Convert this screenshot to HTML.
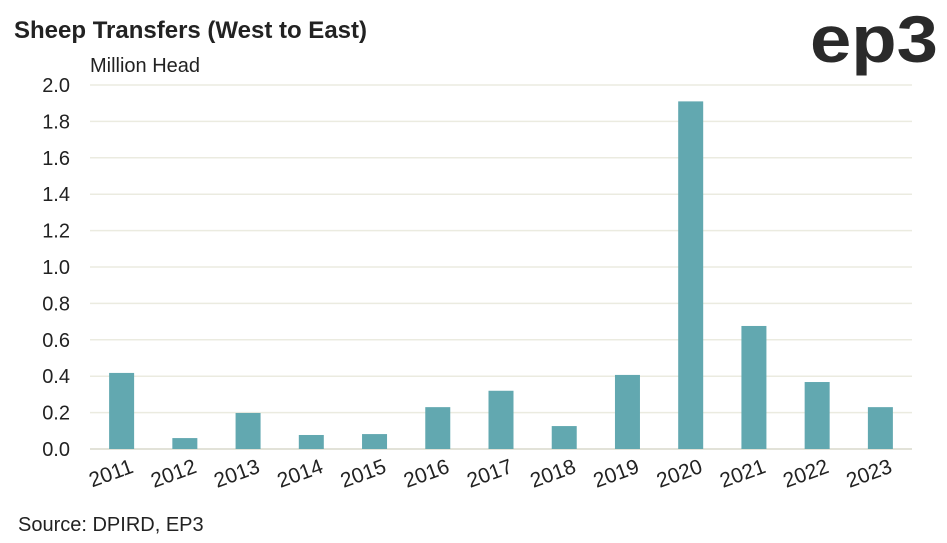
<!DOCTYPE html>
<html><head><meta charset="utf-8"><style>
body{margin:0;width:947px;height:543px;background:#fff;overflow:hidden;font-family:"Liberation Sans",sans-serif;}
svg{display:block}
</style></head><body>
<svg id="chart" width="947" height="543">
<text x="14" y="38" font-size="24" font-weight="bold" fill="#222">Sheep Transfers (West to East)</text>
<text x="810" y="62" font-size="66" font-weight="bold" fill="#2a2a2a" textLength="128" lengthAdjust="spacingAndGlyphs">ep3</text>
<text x="90" y="72" font-size="20" fill="#222">Million Head</text>
<text x="18" y="531" font-size="20" fill="#222">Source: DPIRD, EP3</text>
<g id="grid"></g><g id="bars"></g><g id="xl"></g>
</svg>
<script>
const categories=["2011","2012","2013","2014","2015","2016","2017","2018","2019","2020","2021","2022","2023"];
const values=[0.418,0.06,0.198,0.077,0.082,0.23,0.32,0.126,0.407,1.91,0.676,0.368,0.23];
const yTicks=["0.0","0.2","0.4","0.6","0.8","1.0","1.2","1.4","1.6","1.8","2.0"];
const NS="http://www.w3.org/2000/svg";
const x0=90,x1=912,y0=449,yTop=85,ymax=2.0;
const y=v=>y0-(v/ymax)*(y0-yTop);
const step=(x1-x0)/categories.length;
const xc=i=>x0+step*(i+0.5);
function mk(t,a,p){const e=document.createElementNS(NS,t);for(const k in a)e.setAttribute(k,a[k]);p.appendChild(e);return e;}
const g=document.getElementById('grid'),b=document.getElementById('bars'),xl=document.getElementById('xl');
yTicks.forEach(t=>{const v=parseFloat(t);
const l=mk('line',{x1:x0,x2:x1,y1:y(v),y2:y(v),stroke:v===0?'#d8d8cc':'#ebebe0','stroke-width':1.5},g);


const tx=mk('text',{x:70,y:y(v)+7,'font-size':20,fill:'#222','text-anchor':'end'},g);tx.textContent=t;

});
categories.forEach((c,i)=>{
const r=mk('rect',{x:xc(i)-12.5,y:y(values[i]),width:25,height:y0-y(values[i]),fill:'#62a8b0'},b);


const t=mk('text',{x:xc(i)+13,y:472,'font-size':21,fill:'#222','text-anchor':'end',transform:`rotate(-20 ${xc(i)+13} 472)`},xl);t.textContent=c;

});
</script>
</body></html>
